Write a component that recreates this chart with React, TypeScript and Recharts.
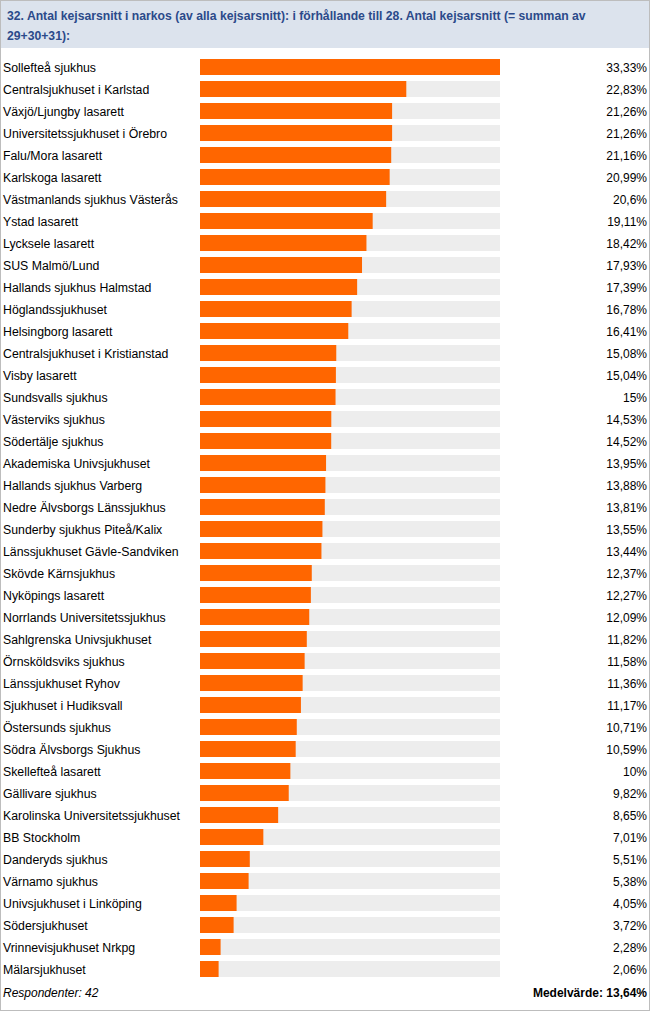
import React from 'react';
import { BarChart, Bar, XAxis, YAxis, LabelList } from 'recharts';

const titleLines = [
  '32. Antal kejsarsnitt i narkos (av alla kejsarsnitt): i förhållande till 28. Antal kejsarsnitt (= summan av',
  '29+30+31):',
];

const hospitals = [
  'Sollefteå sjukhus',
  'Centralsjukhuset i Karlstad',
  'Växjö/Ljungby lasarett',
  'Universitetssjukhuset i Örebro',
  'Falu/Mora lasarett',
  'Karlskoga lasarett',
  'Västmanlands sjukhus Västerås',
  'Ystad lasarett',
  'Lycksele lasarett',
  'SUS Malmö/Lund',
  'Hallands sjukhus Halmstad',
  'Höglandssjukhuset',
  'Helsingborg lasarett',
  'Centralsjukhuset i Kristianstad',
  'Visby lasarett',
  'Sundsvalls sjukhus',
  'Västerviks sjukhus',
  'Södertälje sjukhus',
  'Akademiska Univsjukhuset',
  'Hallands sjukhus Varberg',
  'Nedre Älvsborgs Länssjukhus',
  'Sunderby sjukhus Piteå/Kalix',
  'Länssjukhuset Gävle-Sandviken',
  'Skövde Kärnsjukhus',
  'Nyköpings lasarett',
  'Norrlands Universitetssjukhus',
  'Sahlgrenska Univsjukhuset',
  'Örnsköldsviks sjukhus',
  'Länssjukhuset Ryhov',
  'Sjukhuset i Hudiksvall',
  'Östersunds sjukhus',
  'Södra Älvsborgs Sjukhus',
  'Skellefteå lasarett',
  'Gällivare sjukhus',
  'Karolinska Universitetssjukhuset',
  'BB Stockholm',
  'Danderyds sjukhus',
  'Värnamo sjukhus',
  'Univsjukhuset i Linköping',
  'Södersjukhuset',
  'Vrinnevisjukhuset Nrkpg',
  'Mälarsjukhuset',
];

const percentages = [
  33.33, 22.83, 21.26, 21.26, 21.16, 20.99, 20.6, 19.11, 18.42, 17.93,
  17.39, 16.78, 16.41, 15.08, 15.04, 15, 14.53, 14.52, 13.95, 13.88,
  13.81, 13.55, 13.44, 12.37, 12.27, 12.09, 11.82, 11.58, 11.36, 11.17,
  10.71, 10.59, 10, 9.82, 8.65, 7.01, 5.51, 5.38, 4.05, 3.72,
  2.28, 2.06,
];

const respondentsLabel = 'Respondenter: 42';
const meanLabel = 'Medelvärde: 13,64%';
const axisMax = 33.2;

const data = hospitals.map((name, i) => ({ name, value: percentages[i] }));

const FONT = '"Liberation Sans", Arial, sans-serif';

const fmt = (v: number) => String(v).replace('.', ',') + '%';

const LeftTick = (props: any) => {
  const { y, payload } = props;
  return (
    <text x={3} y={y} dy={5} textAnchor="start" fontSize={12.3} fill="#000" fontFamily={FONT}>
      {payload.value}
    </text>
  );
};

const ValueLabel = (props: any) => {
  const { y, height, value } = props;
  return (
    <text x={647} y={Number(y) + Number(height) / 2} dy={5} textAnchor="end" fontSize={12} fill="#000" fontFamily={FONT}>
      {fmt(value)}
    </text>
  );
};

export default function App() {
  return (
    <div style={{ position: 'absolute', left: 0, top: 0, width: 650, height: 1011, background: '#fff', fontFamily: FONT }}>
      <div
        style={{
          position: 'absolute', left: 0, top: 0, width: 650, height: 48,
          background: '#DCE3ED',
        }}
      >
        {titleLines.map((t, i) => (
          <div
            key={i}
            style={{
              position: 'absolute', left: 7, top: 7 + i * 20, whiteSpace: 'nowrap',
              color: '#2B4A8A', fontWeight: 'bold', fontSize: 12.2, lineHeight: '18px',
            }}
          >
            {t}
          </div>
        ))}
      </div>
      <div style={{ position: 'absolute', left: 0, top: 56 }}>
        <BarChart
          width={650}
          height={924}
          data={data}
          layout="vertical"
          margin={{ top: 0, right: 150, bottom: 0, left: 0 }}
        >
          <XAxis type="number" hide domain={[0, axisMax]} allowDataOverflow />
          <YAxis
            type="category"
            dataKey="name"
            width={200}
            axisLine={false}
            tickLine={false}
            tick={<LeftTick />}
            interval={0}
          />
          <Bar
            dataKey="value"
            fill="#FF6600"
            barSize={16}
            background={{ fill: '#EDEDED' }}
            isAnimationActive={false}
          >
            <LabelList dataKey="value" content={<ValueLabel />} />
          </Bar>
        </BarChart>
      </div>
      <div style={{ position: 'absolute', left: 3, top: 985, fontSize: 12, fontStyle: 'italic', color: '#000', lineHeight: '16px' }}>
        {respondentsLabel}
      </div>
      <div style={{ position: 'absolute', right: 3, top: 985, fontSize: 12, fontWeight: 'bold', color: '#000', lineHeight: '16px' }}>
        {meanLabel}
      </div>
      <div
        style={{
          position: 'absolute', left: 0, top: 0, width: 650, height: 1011,
          boxSizing: 'border-box', border: '1px solid #BDBDBD', pointerEvents: 'none',
        }}
      />
    </div>
  );
}
